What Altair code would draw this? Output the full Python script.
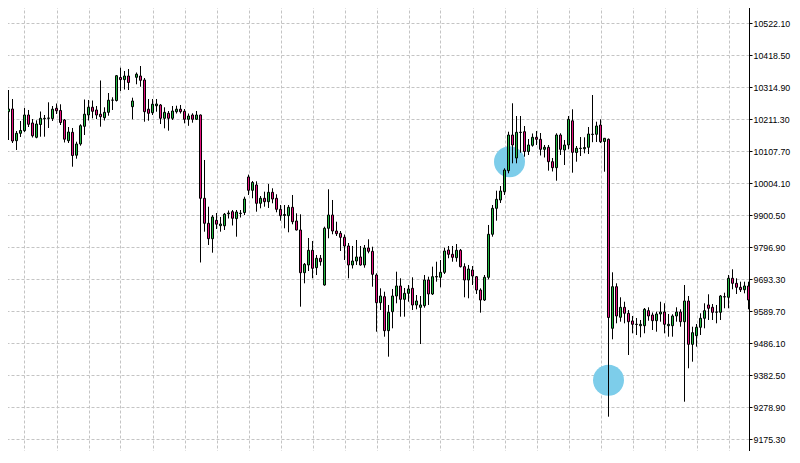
import altair as alt
import pandas as pd

opens = [
    10188.7, 10133.6, 10235.0, 10243.7, 10141.1, 10165.0, 10173.5, 10224.3, 10198.4, 10152.1,
    10193.5, 10212.0, 10213.6, 10213.0, 10246.0, 10238.9, 10208.1, 10141.1, 10168.3, 10094.1,
    10130.4, 10187.7, 10224.3, 10249.5, 10240.5, 10226.9, 10215.5, 10233.0, 10272.2, 10271.2,
    10345.7, 10338.9, 10350.5, 10251.2, 10346.3, 10350.5, 10337.6, 10243.1, 10231.7, 10254.1,
    10256.7, 10213.6, 10229.8, 10213.6, 10235.0, 10243.1, 10236.3, 10210.4, 10224.3, 10210.4,
    10224.3, 9954.6, 9873.7, 9823.8, 9883.4, 9865.9, 9865.6, 9904.4, 9911.2, 9888.9,
    9905.4, 9908.6, 10023.6, 9980.5, 9997.7, 9938.4, 9954.6, 9943.6, 9974.0, 9954.6,
    9919.0, 9898.9, 9898.3, 9925.5, 9881.1, 9852.0, 9713.7, 9738.7, 9786.3, 9729.9,
    9760.4, 9673.9, 9857.5, 9900.5, 9848.7, 9841.3, 9828.3, 9800.2, 9738.7, 9751.6,
    9764.6, 9738.7, 9793.7, 9783.0, 9706.3, 9616.6, 9636.0, 9526.0, 9587.5, 9638.3,
    9670.7, 9627.6, 9647.0, 9663.2, 9609.2, 9601.7, 9606.9, 9690.1, 9644.8, 9699.8,
    9698.8, 9715.0, 9787.2, 9773.3, 9762.3, 9786.3, 9733.2, 9690.1, 9722.5, 9700.8,
    9657.7, 9625.3, 9698.8, 9838.1, 9922.2, 9949.1, 9976.0, 10044.0, 10159.5, 10085.1,
    10167.6, 10170.2, 10106.1, 10126.2, 10152.1, 10145.6, 10113.2, 10119.7, 10073.1, 10053.7,
    10159.5, 10111.0, 10127.2, 10205.5, 10102.9, 10115.8, 10114.9, 10119.7, 10161.2, 10161.8,
    10191.9, 10138.5, 10145.6, 9533.7, 9668.4, 9569.4, 9601.7, 9582.3, 9557.4, 9546.0,
    9542.1, 9542.1, 9590.7, 9576.8, 9558.3, 9580.0, 9586.5, 9542.1, 9542.1, 9573.6,
    9586.5, 9555.1, 9622.1, 9481.9, 9509.8, 9537.0, 9566.1, 9609.2, 9601.7, 9585.9,
    9585.5, 9635.1, 9634.1, 9695.6, 9679.4, 9666.5, 9658.7, 9670.7,
]

highs = [
    10499.5, 10331.1, 10305.2, 10276.1, 10172.5, 10204.9, 10246.9, 10240.5, 10211.3, 10207.1,
    10235.6, 10224.3, 10265.4, 10253.4, 10261.5, 10258.9, 10211.3, 10185.4, 10182.2, 10137.8,
    10194.2, 10274.5, 10272.9, 10271.2, 10253.4, 10336.0, 10249.2, 10295.5, 10281.6, 10353.8,
    10377.4, 10366.7, 10373.2, 10280.3, 10361.9, 10382.9, 10344.1, 10276.1, 10276.1, 10276.1,
    10259.9, 10249.2, 10237.2, 10253.4, 10254.4, 10256.7, 10243.7, 10229.1, 10229.8, 10237.2,
    10225.9, 10078.6, 9927.4, 9900.5, 9907.0, 9894.1, 9907.0, 9915.1, 9916.7, 9916.7,
    9916.7, 9959.8, 10031.3, 10010.6, 10009.6, 9962.0, 9976.0, 10000.9, 9987.0, 9967.6,
    9932.9, 9932.9, 9932.9, 9965.3, 9906.0, 9902.8, 9745.1, 9826.1, 9816.4, 9771.0,
    9771.0, 9862.7, 9983.7, 9949.1, 9878.8, 9848.7, 9837.4, 9809.9, 9800.2, 9819.6,
    9800.2, 9803.4, 9821.9, 9797.9, 9711.8, 9663.2, 9652.2, 9609.2, 9661.0, 9717.0,
    9695.6, 9664.2, 9673.9, 9698.8, 9641.5, 9638.3, 9706.3, 9700.8, 9733.2, 9749.3,
    9754.8, 9794.7, 9800.2, 9800.2, 9806.6, 9790.5, 9744.2, 9738.7, 9735.4, 9703.0,
    9663.2, 9706.3, 9868.2, 9932.9, 9979.2, 9994.4, 10051.7, 10170.2, 10262.2, 10221.0,
    10221.0, 10188.7, 10146.6, 10164.4, 10172.5, 10166.0, 10127.2, 10127.2, 10085.1, 10165.0,
    10165.0, 10143.3, 10221.0, 10242.7, 10123.9, 10153.1, 10152.1, 10185.4, 10289.0, 10202.6,
    10210.4, 10149.8, 10148.2, 9715.0, 9679.4, 9634.1, 9619.8, 9593.0, 9573.6, 9567.1,
    9560.6, 9599.4, 9601.7, 9584.9, 9587.5, 9619.8, 9614.7, 9580.0, 9579.1, 9601.7,
    9595.2, 9673.9, 9638.3, 9538.9, 9547.6, 9582.3, 9614.7, 9643.8, 9612.4, 9609.2,
    9641.5, 9649.0, 9706.3, 9724.7, 9695.6, 9684.6, 9684.6, 9684.6,
]

lows = [
    10111.0, 10101.3, 10143.3, 10133.6, 10111.0, 10153.1, 10169.2, 10185.4, 10151.4, 10148.9,
    10154.0, 10154.0, 10182.2, 10204.9, 10227.5, 10191.9, 10135.3, 10133.6, 10056.9, 10082.8,
    10124.9, 10159.5, 10206.5, 10213.6, 10211.3, 10186.4, 10206.5, 10222.0, 10240.5, 10268.0,
    10302.0, 10306.8, 10305.2, 10210.4, 10323.7, 10315.9, 10202.6, 10205.8, 10224.3, 10235.0,
    10195.1, 10181.2, 10173.5, 10208.1, 10229.1, 10229.1, 10197.4, 10189.3, 10199.4, 10208.1,
    9746.8, 9846.5, 9803.4, 9778.5, 9855.2, 9846.5, 9852.0, 9889.2, 9866.5, 9830.3,
    9892.4, 9900.5, 9965.3, 9954.6, 9911.2, 9922.2, 9927.4, 9923.2, 9938.4, 9909.3,
    9882.1, 9857.5, 9844.5, 9870.4, 9850.4, 9603.7, 9679.4, 9719.2, 9695.6, 9706.3,
    9736.4, 9671.6, 9825.1, 9838.1, 9832.5, 9784.0, 9754.8, 9695.6, 9727.3, 9738.7,
    9736.4, 9729.9, 9776.5, 9668.4, 9522.7, 9593.0, 9506.5, 9441.8, 9533.7, 9614.7,
    9571.3, 9571.3, 9619.8, 9593.0, 9595.2, 9482.9, 9600.4, 9609.2, 9641.5, 9684.6,
    9666.5, 9709.5, 9760.4, 9749.3, 9749.3, 9730.6, 9634.1, 9630.8, 9673.9, 9644.8,
    9584.2, 9622.1, 9692.4, 9830.3, 9882.1, 9939.4, 9965.3, 10035.5, 10067.9, 10067.9,
    10102.2, 10089.3, 10094.8, 10121.7, 10127.2, 10093.2, 10086.7, 10044.0, 10041.4, 10011.6,
    10094.8, 10062.4, 10113.2, 10037.5, 10073.1, 10091.5, 10100.3, 10098.0, 10136.2, 10136.9,
    10133.6, 10040.7, 9247.5, 9498.1, 9549.9, 9555.1, 9549.9, 9447.3, 9517.5, 9512.0,
    9504.6, 9517.5, 9558.3, 9528.2, 9522.7, 9555.1, 9517.5, 9506.5, 9506.5, 9555.1,
    9538.9, 9296.1, 9404.2, 9425.6, 9474.2, 9512.0, 9533.7, 9560.6, 9560.6, 9549.9,
    9560.6, 9598.5, 9598.5, 9660.0, 9644.8, 9651.2, 9647.0, 9595.2,
]

closes = [
    10123.9, 10237.2, 10243.7, 10140.1, 10165.0, 10174.1, 10224.3, 10194.2, 10157.0, 10195.1,
    10213.6, 10213.6, 10214.6, 10243.1, 10237.9, 10200.0, 10145.9, 10169.2, 10093.2, 10130.4,
    10189.6, 10226.9, 10249.5, 10236.3, 10224.3, 10218.8, 10233.0, 10272.2, 10272.5, 10351.5,
    10338.9, 10350.5, 10329.5, 10269.6, 10356.4, 10336.6, 10235.0, 10229.8, 10259.3, 10259.9,
    10213.6, 10233.0, 10213.6, 10237.2, 10243.1, 10235.0, 10210.4, 10221.0, 10210.4, 10224.3,
    9954.6, 9873.7, 9823.8, 9894.1, 9870.8, 9871.4, 9903.1, 9907.0, 9889.9, 9910.2,
    9906.4, 9952.3, 9980.5, 10005.8, 9938.4, 9954.6, 9943.6, 9974.0, 9952.3, 9919.0,
    9898.3, 9902.2, 9925.5, 9878.8, 9852.0, 9713.7, 9740.9, 9786.3, 9728.0, 9760.4,
    9749.3, 9857.5, 9900.5, 9848.7, 9840.0, 9828.3, 9800.2, 9738.7, 9751.6, 9764.6,
    9738.7, 9793.7, 9783.0, 9708.5, 9616.6, 9638.3, 9526.0, 9585.5, 9638.3, 9670.7,
    9627.6, 9647.0, 9661.0, 9609.2, 9622.1, 9609.2, 9690.1, 9644.8, 9700.8, 9701.4,
    9715.0, 9784.0, 9773.3, 9763.6, 9786.3, 9733.2, 9690.1, 9725.7, 9703.0, 9657.7,
    9625.3, 9698.8, 9838.1, 9922.2, 9951.4, 9978.2, 10046.2, 10159.5, 10127.2, 10168.3,
    10168.6, 10106.1, 10127.2, 10152.1, 10145.6, 10113.2, 10119.7, 10073.1, 10053.7, 10159.5,
    10113.2, 10127.2, 10210.4, 10103.5, 10116.5, 10116.8, 10119.1, 10162.8, 10162.1, 10188.7,
    10137.8, 10148.9, 9568.7, 9668.4, 9573.6, 9601.7, 9582.3, 9555.1, 9546.7, 9547.0,
    9546.7, 9595.2, 9573.6, 9558.3, 9580.0, 9586.5, 9546.7, 9546.7, 9573.6, 9586.5,
    9555.1, 9622.1, 9481.9, 9519.5, 9537.0, 9566.1, 9590.7, 9598.5, 9585.5, 9586.5,
    9638.3, 9636.0, 9695.6, 9679.4, 9666.5, 9658.7, 9670.7, 9625.3,
]

y_ticks = [9175.30, 9278.90, 9382.50, 9486.10, 9589.70, 9693.30, 9796.90,
           9900.50, 10004.10, 10107.70, 10211.30, 10314.90, 10418.50, 10522.10]

marker_index = [127.25, 152.0]
marker_price = [10073.1, 9365.4]

GREEN = "#20b840"
PINK = "#e6127f"
GRID = "#c4c4c4"

df = pd.DataFrame({
    "i": list(range(len(opens))),
    "open": opens, "high": highs, "low": lows, "close": closes,
})
df["dir"] = ["up" if c >= o else "down" for o, c in zip(opens, closes)]
mk = pd.DataFrame({"i": marker_index, "price": marker_price})

grid_x = list(range(6, len(opens), 8))

x_enc = alt.X(
    "i:Q",
    scale=alt.Scale(domain=[-0.125, 187.125], nice=False, zero=False, padding=0),
    axis=alt.Axis(values=grid_x, labels=False, ticks=False, domain=False,
                  title=None, grid=True, gridColor=GRID, gridDash=[3, 2],
                  gridWidth=1),
)
y_scale = alt.Scale(domain=[9097.6, 10596.6], nice=False, zero=False, padding=0)
y_axis = alt.Axis(orient="right", values=y_ticks, format=".2f", title=None,
                  grid=True, gridColor=GRID, gridDash=[3, 2], gridWidth=1,
                  domainColor="black", domainWidth=1, tickColor="black",
                  tickSize=3, labelFont="Liberation Sans", labelFontSize=8.8,
                  labelColor="black", labelPadding=1)

markers = alt.Chart(mk).mark_circle(size=960, color="#7dcdea", opacity=1).encode(
    x=x_enc, y=alt.Y("price:Q", scale=y_scale, axis=y_axis)
)
wicks = alt.Chart(df).mark_rule(color="black", strokeWidth=1, opacity=1).encode(
    x=x_enc, y=alt.Y("low:Q", scale=y_scale, axis=y_axis), y2="high:Q"
)
bodies = alt.Chart(df).mark_bar(width=2, stroke="black", strokeWidth=1,
                                opacity=1, fillOpacity=1, strokeOpacity=1).encode(
    x=x_enc, y=alt.Y("open:Q", scale=y_scale, axis=y_axis), y2="close:Q",
    color=alt.Color("dir:N", scale=alt.Scale(domain=["up", "down"], range=[GREEN, PINK]),
                    legend=None),
)

chart = alt.layer(markers, wicks, bodies).properties(
    width=749, height=463,
    padding={"left": -8, "top": -8, "right": 43, "bottom": -12},
    autosize=alt.AutoSizeParams(type="none"),
    background="white",
).configure_view(stroke=None).configure_scale(continuousPadding=0)

chart.save("out.html", embed_options={"renderer": "svg", "actions": False})
